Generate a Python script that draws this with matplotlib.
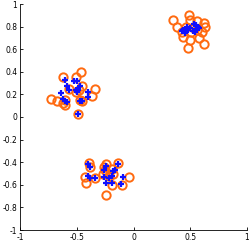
import matplotlib
matplotlib.use("Agg")
import matplotlib.pyplot as plt

plt.rcParams['axes.unicode_minus'] = False
plt.rcParams['font.family'] = 'DejaVu Sans'

# orange circles
circ_x = [0.35, 0.38, 0.485, 0.50, 0.56, 0.62, 0.63, 0.60, 0.56, 0.46, 0.43, 0.44, 0.50, 0.48, 0.58, 0.62, 0.51, 0.53,
          -0.62, -0.51, -0.46, -0.45, -0.34, -0.37, -0.73, -0.67, -0.62, -0.60, -0.57, -0.51, -0.47, -0.45, -0.49, -0.60, -0.48,
          -0.39, -0.38, -0.43, -0.42, -0.34, -0.26, -0.24, -0.25, -0.19, -0.18, -0.19, -0.14, -0.10, -0.04, -0.24, -0.22, -0.27]
circ_y = [0.86, 0.80, 0.90, 0.86, 0.85, 0.83, 0.80, 0.75, 0.77, 0.80, 0.75, 0.71, 0.68, 0.61, 0.70, 0.65, 0.75, 0.79,
          0.35, 0.35, 0.40, 0.27, 0.25, 0.19, 0.16, 0.14, 0.12, 0.11, 0.25, 0.22, 0.15, 0.14, 0.03, 0.15, 0.24,
          -0.41, -0.44, -0.53, -0.58, -0.54, -0.44, -0.42, -0.47, -0.46, -0.50, -0.60, -0.41, -0.60, -0.53, -0.69, -0.52, -0.50]

# blue plus markers
plus_x = [0.43, 0.45, 0.46, 0.48, 0.50, 0.53, 0.55, 0.56, 0.57, 0.58, 0.52, 0.54, 0.47, 0.44,
          -0.60, -0.52, -0.50, -0.64, -0.59, -0.57, -0.62, -0.60, -0.59, -0.50, -0.49, -0.47, -0.40, -0.40, -0.47, -0.45, -0.49, -0.51,
          -0.40, -0.38, -0.40, -0.38, -0.34, -0.26, -0.26, -0.24, -0.24, -0.19, -0.19, -0.18, -0.16, -0.14, -0.09, -0.11, -0.22]
plus_y = [0.76, 0.74, 0.78, 0.77, 0.79, 0.82, 0.81, 0.78, 0.80, 0.79, 0.76, 0.75, 0.80, 0.77,
          0.33, 0.32, 0.32, 0.21, 0.27, 0.24, 0.16, 0.14, 0.13, 0.22, 0.24, 0.27, 0.22, 0.18, 0.14, 0.14, 0.03, 0.24,
          -0.42, -0.44, -0.52, -0.54, -0.54, -0.53, -0.47, -0.43, -0.58, -0.58, -0.52, -0.48, -0.47, -0.42, -0.53, -0.59, -0.54]

fig = plt.figure(figsize=(2.49, 2.44), dpi=100)
ax = fig.add_axes([20 / 249, 14 / 244, 227 / 249, 226 / 244])

ax.plot(circ_x, circ_y, 'o', mfc='none', mec='#ff6a10', ms=6, mew=1.4, ls='none')
ax.plot(plus_x, plus_y, '+', color='#1010ff', ms=4.5, mew=1.6, ls='none')

ax.set_xlim(-1, 1)
ax.set_ylim(-1, 1)
ax.set_xticks([-1, -0.5, 0, 0.5, 1])
ax.set_xticklabels(['-1', '-0.5', '0', '0.5', '1'])
ax.set_yticks([-1, -0.8, -0.6, -0.4, -0.2, 0, 0.2, 0.4, 0.6, 0.8, 1])
ax.set_yticklabels(['-1', '-0.8', '-0.6', '-0.4', '-0.2', '0', '0.2', '0.4', '0.6', '0.8', '1'])
ax.tick_params(direction='in', length=2.5, width=0.6, labelsize=5.5, pad=2)
ax.spines['top'].set_visible(False)
ax.spines['right'].set_visible(False)
ax.spines['left'].set_linewidth(0.6)
ax.spines['bottom'].set_linewidth(0.6)

fig.savefig('out.png', dpi=100)
